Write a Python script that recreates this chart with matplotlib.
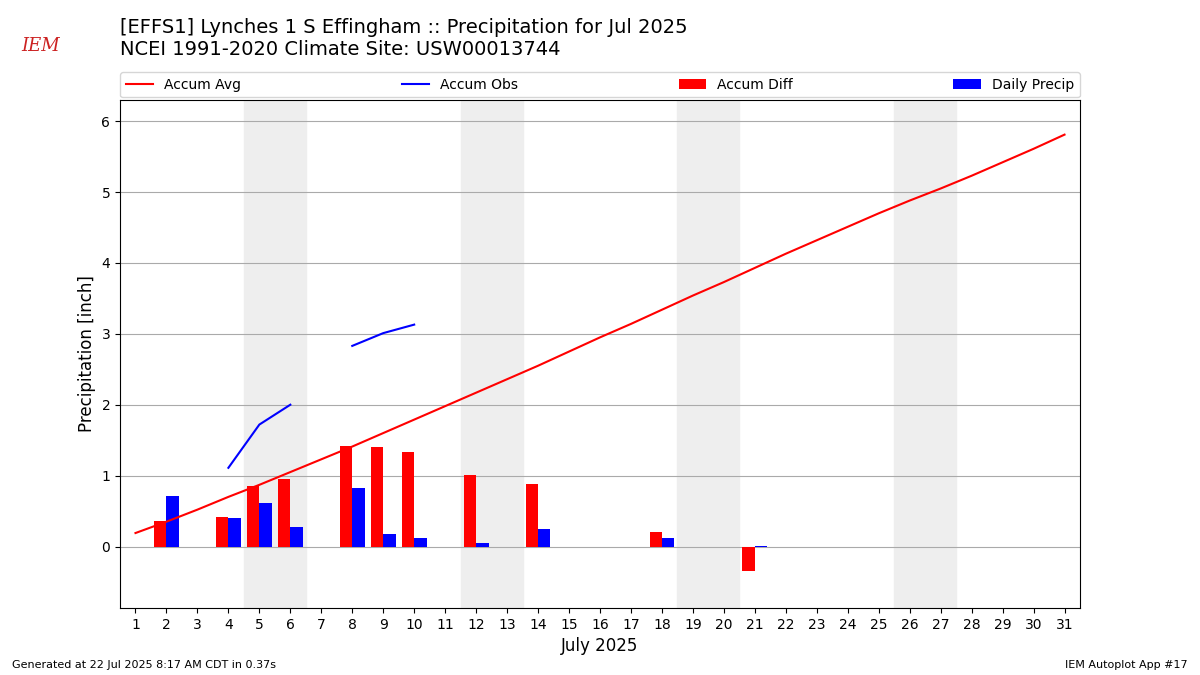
import numpy as np
import matplotlib
matplotlib.use("Agg")
import matplotlib.pyplot as plt

days = list(range(1, 32))
accum_avg = [0.19,0.35,0.52,0.70,0.87,1.05,1.23,1.41,1.60,1.79,1.98,2.17,2.36,2.55,2.75,2.95,
             3.14,3.34,3.54,3.73,3.93,4.13,4.32,4.51,4.70,4.88,5.05,5.23,5.42,5.61,5.81]
obs_days = [4,5,6,7,8,9,10]
accum_obs = [1.11,1.72,2.00,np.nan,2.83,3.01,3.13]
bar_days = [2,4,5,6,8,9,10,12,14,18,21]
accum_diff = [0.36,0.42,0.86,0.95,1.42,1.40,1.33,1.01,0.88,0.21,-0.35]
daily_precip = [0.71,0.40,0.61,0.28,0.82,0.18,0.12,0.05,0.25,0.12,0.01]
weekends = [5,12,19,26]

fig = plt.figure(figsize=(12,6.75), dpi=100)
ax = fig.add_axes([0.1,0.099,0.8,0.753])
for w in weekends:
    ax.axvspan(w-0.5, w+1.5, color="#eeeeee", zorder=0)
ax.grid(axis="y", color="#aaaaaa", zorder=1)
ax.set_axisbelow(True)
l1, = ax.plot(days, accum_avg, color="red", label="Accum Avg", zorder=3)
l2, = ax.plot(obs_days, accum_obs, color="blue", label="Accum Obs", zorder=3)
bd = np.array(bar_days)
b1 = ax.bar(bd-0.2, accum_diff, width=0.4, color="red", label="Accum Diff", zorder=2)
b2 = ax.bar(bd+0.2, daily_precip, width=0.4, color="blue", label="Daily Precip", zorder=2)
ax.set_xlim(0.5,31.5)
ax.set_ylim(-0.87,6.3)
ax.set_xticks(days)
ax.set_yticks(range(0,7))
ax.set_xlabel("July 2025", fontsize=12)
ax.set_ylabel("Precipitation [inch]", fontsize=12)
ax.legend(handles=[l1,l2,b1,b2], loc="lower left", bbox_to_anchor=(0,1.005,1,0.05),
          ncol=4, mode="expand", borderaxespad=0, fontsize=10)
fig.text(0.1, 0.945, "[EFFS1] Lynches 1 S Effingham :: Precipitation for Jul 2025", fontsize=14, va="bottom")
fig.text(0.1, 0.912, "NCEI 1991-2020 Climate Site: USW00013744", fontsize=14, va="bottom")
fig.text(0.01, 0.01, "Generated at 22 Jul 2025 8:17 AM CDT in 0.37s", fontsize=8)
fig.text(0.99, 0.01, "IEM Autoplot App #17", fontsize=8, ha="right")
fig.text(0.018, 0.925, "IEM", fontsize=13, color="#cc2222", style="italic", family="DejaVu Serif")
fig.savefig("out.png")
